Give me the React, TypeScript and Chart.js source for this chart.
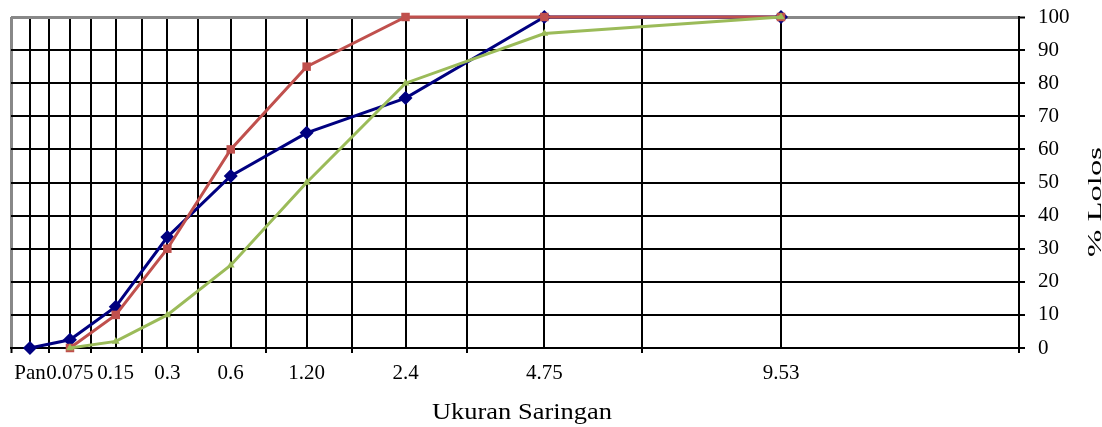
import React, { useEffect, useRef } from 'react';
import { Chart, registerables } from 'chart.js';

Chart.register(...registerables);

// Sieve sizes (category labels) and their positions along the x axis (0..100 of axis length)
const categories = ['Pan', '0.075', '0.15', '0.3', '0.6', '1.20', '2.4', '4.75', '9.53'];
const categoryPositions = [1.88, 5.85, 10.39, 15.51, 21.8, 29.33, 39.14, 52.91, 76.39];
// Boundaries between categories (tick marks + grid lines)
const boundaryPositions = [0, 3.8, 7.94, 12.97, 18.58, 25.3, 33.86, 45.21, 62.6, 100];

// % passing
const seriesBlue = [0, 2.5, 12.5, 33.5, 52, 65, 75.5, 100, 100];
const seriesRed = [null, 0, 10, 30, 60, 85, 100, 100, 100];
const seriesGreen = [null, 0, 2, 10, 25, 50, 80, 95, 100];

const yMin = 0;
const yMax = 100;
const yStep = 10;

const xTitle = 'Ukuran Saringan';
const yTitle = '% Lolos';

const FONT = '"Liberation Serif", "Times New Roman", serif';

const toPoints = (vals: (number | null)[]) =>
  vals.map((v, i) => ({ x: categoryPositions[i], y: v }));

const titlePlugin = {
  id: 'stretchedTitles',
  afterDraw(chart: any) {
    const ctx = chart.ctx as CanvasRenderingContext2D;
    ctx.save();
    ctx.fillStyle = '#000';
    ctx.textAlign = 'center';
    ctx.textBaseline = 'alphabetic';
    // x title
    ctx.font = `23px ${FONT}`;
    const w1 = ctx.measureText(xTitle).width;
    ctx.save();
    ctx.translate(522, 419);
    ctx.scale(180 / w1, 1);
    ctx.fillText(xTitle, 0, 0);
    ctx.restore();
    // y title (reads bottom to top)
    ctx.font = `18px ${FONT}`;
    const w2 = ctx.measureText(yTitle).width;
    ctx.save();
    ctx.translate(1101, 202);
    ctx.rotate(-Math.PI / 2);
    ctx.scale(110 / w2, 1);
    ctx.fillText(yTitle, 0, 0);
    ctx.restore();
    ctx.restore();
  },
};

export default function App() {
  const canvasRef = useRef<HTMLCanvasElement | null>(null);

  useEffect(() => {
    if (!canvasRef.current) return;
    const allTicks = [...categoryPositions, ...boundaryPositions].sort((a, b) => a - b);
    const isBoundary = (v: number) => boundaryPositions.includes(v);

    const chart = new Chart(canvasRef.current, {
      type: 'line',
      data: {
        datasets: [
          {
            label: 'Blue',
            data: toPoints(seriesBlue) as any,
            borderColor: '#000080',
            backgroundColor: '#000080',
            borderWidth: 3,
            pointStyle: 'rectRot',
            pointRadius: 7,
            pointBorderWidth: 0,
            tension: 0,
            order: 3,
            clip: false as any,
          },
          {
            label: 'Red',
            data: toPoints(seriesRed) as any,
            borderColor: '#C0504D',
            backgroundColor: '#C0504D',
            borderWidth: 3,
            pointStyle: 'rect',
            pointRadius: 6,
            pointBorderWidth: 0,
            tension: 0,
            order: 2,
            clip: false as any,
          },
          {
            label: 'Green',
            data: toPoints(seriesGreen) as any,
            borderColor: '#9BBB59',
            backgroundColor: '#9BBB59',
            borderWidth: 3,
            pointStyle: 'triangle',
            pointRadius: 4.5,
            pointBorderWidth: 0,
            tension: 0,
            order: 1,
            clip: false as any,
          },
        ],
      },
      options: {
        animation: false,
        responsive: true,
        maintainAspectRatio: false,
        layout: { padding: { left: 11, top: 17, right: 0, bottom: 0 } },
        plugins: {
          legend: { display: false },
          tooltip: { enabled: false },
        },
        scales: {
          x: {
            type: 'linear',
            position: 'bottom',
            min: 0,
            max: 100,
            afterBuildTicks: (scale: any) => {
              scale.ticks = allTicks.map((v) => ({ value: v }));
            },
            afterFit: (scale: any) => {
              scale.height = 79;
              scale.paddingLeft = 0;
              scale.paddingRight = 0;
            },
            ticks: {
              autoSkip: false,
              maxRotation: 0,
              minRotation: 0,
              padding: 8,
              color: '#000',
              font: { family: FONT, size: 21 },
              callback: (value: any) => {
                const idx = categoryPositions.indexOf(Number(value));
                return idx >= 0 ? categories[idx] : '';
              },
            },
            grid: {
              color: (ctx: any) => (ctx.tick && ctx.tick.value === 0 ? '#888888' : '#000000'),
              lineWidth: (ctx: any) => (ctx.tick && ctx.tick.value === 0 ? 3 : 2),
              tickColor: (ctx: any) =>
                ctx.tick && isBoundary(ctx.tick.value) ? '#000000' : 'rgba(0,0,0,0)',
              tickLength: 5,
              tickWidth: 2,
            },
            border: { color: '#000', width: 2 },
          },
          y: {
            type: 'linear',
            position: 'right',
            min: yMin,
            max: yMax,
            afterFit: (scale: any) => {
              scale.width = 83;
              scale.paddingTop = 0;
              scale.paddingBottom = 0;
            },
            ticks: {
              stepSize: yStep,
              padding: 13,
              color: '#000',
              font: { family: FONT, size: 21 },
            },
            grid: {
              color: (ctx: any) => (ctx.tick && ctx.tick.value === yMax ? '#888888' : '#000000'),
              lineWidth: (ctx: any) => (ctx.tick && ctx.tick.value === yMax ? 3 : 2),
              tickColor: '#000',
              tickLength: 6,
              tickWidth: 2,
            },
            border: { color: '#000', width: 2 },
          },
        },
      },
      plugins: [titlePlugin],
    });

    return () => chart.destroy();
  }, []);

  return (
    <div
      style={{
        position: 'fixed',
        left: 0,
        top: 0,
        width: 1102,
        height: 427,
        background: '#fff',
      }}
    >
      <canvas ref={canvasRef} />
    </div>
  );
}
